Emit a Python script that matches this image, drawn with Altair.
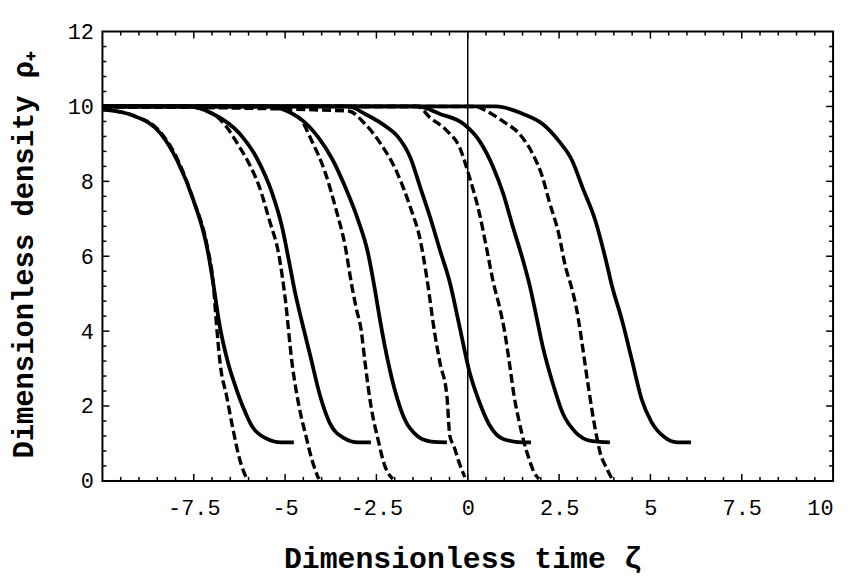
import altair as alt
import pandas as pd

# ---------------- data ----------------
X_TICKS = [-7.5, -5, -2.5, 0, 2.5, 5, 7.5, 10]
Y_TICKS = [0, 2, 4, 6, 8, 10, 12]

# solid curves (plateau 10 -> plateau 1)
S1_X = [-10, -9.14, -8.4, -7.95, -7.51, -7.14, -6.97, -6.8, -6.56, -6.35, -6.12, -5.9, -5.55, -5.1, -4.76]
S1_Y = [9.92, 9.75, 9.27, 8.55, 7.5, 6.25, 5.3, 4.2, 3.15, 2.5, 1.9, 1.45, 1.15, 1.03, 1.03]
S2_X = [-10, -7.68, -6.97, -6.24, -5.78, -5.35, -5.08, -4.88, -4.72, -4.54, -4.3, -4.05, -3.78, -3.4, -3.0, -2.65]
S2_Y = [10, 10, 9.8, 9.27, 8.63, 7.67, 6.77, 5.8, 5.0, 4.25, 3.3, 2.3, 1.55, 1.15, 1.03, 1.03]
S3_X = [-10, -5.51, -4.62, -4.08, -3.73, -3.35, -3.0, -2.73, -2.54, -2.42, -2.27, -2.0, -1.73, -1.38, -1.0, -0.57]
S3_Y = [10, 10, 9.7, 9.16, 8.63, 7.84, 6.96, 6.08, 5.1, 4.4, 3.6, 2.44, 1.65, 1.2, 1.05, 1.03]
S4_X = [-10, -3.27, -2.81, -2.19, -1.92, -1.57, -1.3, -1.03, -0.76, -0.49, -0.22, 0.05, 0.32, 0.59, 0.97, 1.5, 1.73]
S4_Y = [10, 10, 9.8, 9.43, 9.2, 8.63, 7.84, 7.04, 6.16, 5.3, 4.1, 2.9, 2.1, 1.5, 1.12, 1.03, 1.03]
S5_X = [-10, -1.38, -0.76, -0.11, 0.32, 0.7, 0.97, 1.24, 1.51, 1.7, 1.86, 2.05, 2.32, 2.59, 2.95, 3.41, 3.89]
S5_Y = [10, 10, 9.8, 9.53, 9.08, 8.37, 7.67, 6.77, 5.9, 5.2, 4.48, 3.6, 2.63, 1.83, 1.3, 1.06, 1.03]
S6_X = [-10, 0.78, 1.51, 2.05, 2.49, 2.86, 3.14, 3.49, 3.76, 3.95, 4.22, 4.49, 4.76, 5.03, 5.38, 5.73, 6.11]
S6_Y = [10, 10, 9.8, 9.53, 9.08, 8.55, 7.84, 6.96, 5.98, 5.2, 4.3, 3.24, 2.18, 1.57, 1.17, 1.03, 1.03]

# dashed curves (plateau 10 -> 0)
D1_X = [-10, -9.14, -8.4, -7.95, -7.51, -7.14, -6.97, -6.88, -6.78, -6.6, -6.43, -6.25, -6.05]
D1_Y = [9.92, 9.75, 9.3, 8.6, 7.5, 6.3, 5.3, 4.2, 3.15, 2.26, 1.4, 0.6, 0.05]
D2_X = [-10, -7.68, -6.97, -6.6, -6.3, -6.0, -5.7, -5.43, -5.16, -5.0, -4.81, -4.62, -4.43, -4.27, -4.08]
D2_Y = [10, 10, 9.8, 9.45, 9.0, 8.5, 7.84, 6.96, 5.98, 4.9, 3.15, 2.0, 1.2, 0.58, 0.05]
D3_X = [-10, -5.51, -4.62, -4.27, -3.89, -3.62, -3.35, -3.19, -3.05, -2.92, -2.81, -2.65, -2.46, -2.27, -2.05]
D3_Y = [10, 10, 9.7, 9.08, 8.2, 7.3, 6.24, 5.3, 4.6, 4.04, 3.15, 2.0, 1.12, 0.4, 0.05]
D4_X = [-10, -3.27, -2.81, -2.38, -1.92, -1.57, -1.3, -1.11, -0.92, -0.76, -0.57, -0.49, -0.38, -0.24, -0.08]
D4_Y = [10, 9.88, 9.53, 9.0, 8.2, 7.3, 6.43, 5.36, 4.04, 3.15, 2.26, 1.2, 0.93, 0.5, 0.1]
D5_X = [-10, -1.38, -1.03, -0.57, -0.22, 0.05, 0.32, 0.51, 0.7, 0.88, 1.0, 1.14, 1.27, 1.41, 1.54, 1.68, 1.81, 1.95]
D5_Y = [10, 10, 9.7, 9.35, 8.9, 8.1, 7.14, 6.24, 5.3, 4.6, 4.04, 3.15, 2.26, 1.57, 1.03, 0.58, 0.24, 0.05]
D6_X = [-10, 0.2, 0.51, 0.97, 1.41, 1.78, 2.05, 2.22, 2.49, 2.68, 2.86, 3.0, 3.14, 3.3, 3.49, 3.62, 3.81, 3.95]
D6_Y = [10, 10, 9.88, 9.6, 9.27, 8.73, 8.1, 7.5, 6.6, 5.7, 5.1, 4.48, 3.6, 2.52, 1.38, 0.77, 0.32, 0.05]

SOLID = [(S1_X, S1_Y), (S2_X, S2_Y), (S3_X, S3_Y), (S4_X, S4_Y), (S5_X, S5_Y), (S6_X, S6_Y)]
DASHED = [(D1_X, D1_Y), (D2_X, D2_Y), (D3_X, D3_Y), (D4_X, D4_Y), (D5_X, D5_Y), (D6_X, D6_Y)]

# frame tick positions
X_MAJOR = [-7.5, -5, -2.5, 0, 2.5, 5, 7.5]
X_MINOR = [k * 0.5 for k in range(-19, 20) if (k * 0.5) not in X_MAJOR]
Y_MAJOR = [2, 4, 6, 8, 10]
Y_MINOR = [round(k * 0.4, 1) for k in range(1, 30) if k % 5 != 0]


def table(curves, prefix):
    rows = []
    for i, (xs, ys) in enumerate(curves):
        for j, (x, y) in enumerate(zip(xs, ys)):
            rows.append({"curve": f"{prefix}{i}", "order": j, "zeta": x, "rho": y})
    return pd.DataFrame(rows)


solid_df = table(SOLID, "s")
dashed_df = table(DASHED, "d")

FONT = "Liberation Mono"
XS = alt.Scale(domain=[-10, 10], nice=False, zero=False)
YS = alt.Scale(domain=[0, 12], nice=False, zero=False)

X_AXIS = alt.Axis(
    values=X_TICKS, labelExpr="'' + datum.value", grid=False, domain=False, ticks=False,
    labelFont=FONT, labelFontSize=22, labelPadding=17, labelColor="black",
    title="Dimensionless time ζ", titleFont=FONT, titleFontSize=30, titleFontWeight="bold",
    titleColor="black", titleX=362, titleY=87, titleBaseline="alphabetic", titleAnchor="middle",
)
Y_AXIS = alt.Axis(
    values=Y_TICKS, labelExpr="'' + datum.value", grid=False, domain=False, ticks=False,
    labelFont=FONT, labelFontSize=22, labelPadding=9, labelColor="black",
    title="Dimensionless density ρ₊", titleFont=FONT, titleFontSize=29, titleFontWeight="bold",
    titleColor="black", titleX=-70, titleY=224, titleAngle=270, titleBaseline="alphabetic",
    titleAlign="center",
)

solid = alt.Chart(solid_df).mark_line(color="black", strokeWidth=3.8, interpolate="monotone").encode(
    x=alt.X("zeta:Q", scale=XS, axis=X_AXIS),
    y=alt.Y("rho:Q", scale=YS, axis=Y_AXIS),
    detail="curve:N",
    order="order:Q",
)
dashed = alt.Chart(dashed_df).mark_line(
    color="black", strokeWidth=3.4, strokeDash=[9, 4], interpolate="monotone"
).encode(
    x=alt.X("zeta:Q", scale=XS, axis=X_AXIS),
    y=alt.Y("rho:Q", scale=YS, axis=Y_AXIS),
    detail="curve:N",
    order="order:Q",
)

zero_line = alt.Chart(pd.DataFrame({"z": [0]})).mark_rule(color="black", strokeWidth=1.5).encode(
    x=alt.X("z:Q", scale=XS, axis=X_AXIS),
    y=alt.YDatum(0, scale=YS, axis=Y_AXIS),
    y2=alt.Y2Datum(12),
)

tick_layers = []
for vals, L in [(X_MAJOR, 7), (X_MINOR, 4)]:
    df = pd.DataFrame({"p": vals})
    for ypos, off in [(0, -L), (12, L)]:
        tick_layers.append(
            alt.Chart(df).mark_rule(color="black", strokeWidth=1.5, y2Offset=off).encode(
                x=alt.X("p:Q", scale=XS, axis=X_AXIS),
                y=alt.YDatum(ypos, scale=YS, axis=Y_AXIS),
                y2=alt.Y2Datum(ypos),
            )
        )
for vals, L in [(Y_MAJOR, 7), (Y_MINOR, 4)]:
    df = pd.DataFrame({"p": vals})
    for xpos, off in [(-10, L), (10, -L)]:
        tick_layers.append(
            alt.Chart(df).mark_rule(color="black", strokeWidth=1.5, x2Offset=off).encode(
                y=alt.Y("p:Q", scale=YS, axis=Y_AXIS),
                x=alt.XDatum(xpos, scale=XS, axis=X_AXIS),
                x2=alt.X2Datum(xpos),
            )
        )

chart = alt.layer(zero_line, *tick_layers, dashed, solid).properties(
    width=735,
    height=452,
    autosize=alt.AutoSizeParams(type="none"),
    padding={"left": 95, "top": 22, "right": 12, "bottom": 100},
    background="white",
).configure_view(stroke="black", strokeWidth=2)

chart.save("out.html", embed_options={"renderer": "svg", "actions": False})
